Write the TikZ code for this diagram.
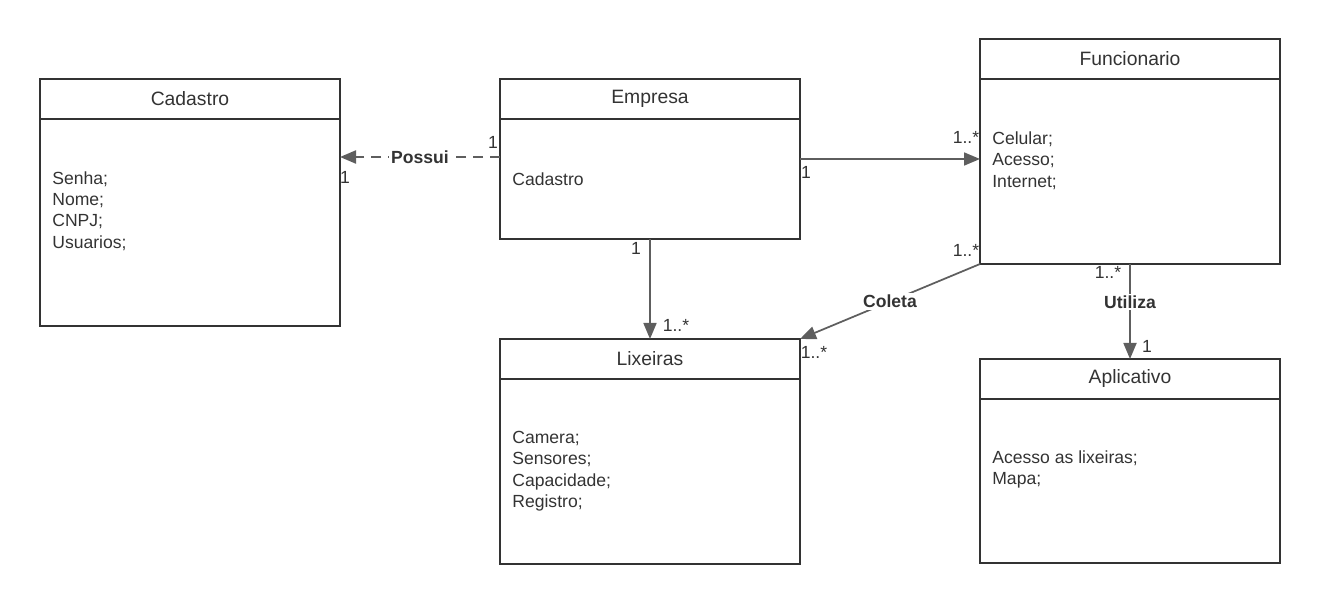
\documentclass[tikz,border=0pt]{standalone}
\usepackage{fontspec}
\setmainfont{Liberation Sans}
\usetikzlibrary{arrows.meta,positioning,calc}
\definecolor{ink}{HTML}{333333}
\definecolor{wire}{HTML}{5E5E5E}

\begin{document}
\begin{tikzpicture}[
  font=\fontsize{10}{12.2}\selectfont, text=ink,
  hdr/.style={draw=ink,line width=1.1pt,minimum width=6cm,minimum height=0.8cm,inner sep=0pt,outer sep=0pt,font=\fontsize{11}{13}\selectfont},
  body/.style={draw=ink,line width=1.1pt,minimum width=6cm,inner sep=0pt,outer sep=0pt},
  attr/.style={anchor=west,align=left,inner sep=0pt},
  assoc/.style={draw=wire,line width=1pt,-{Triangle[length=3.2mm,width=2.6mm]}},
  lbl/.style={fill=white,font=\fontsize{10}{12}\selectfont\bfseries,inner sep=1pt},
  mult/.style={inner sep=0pt}
]
\useasboundingbox (0,0) rectangle (26.4,-12.1);
% the classes
\node[hdr] (cadh) at (3.8,-1.98) {Cadastro};
\node[body,minimum height=4.14cm,below=0pt of cadh] (cadb) {};
\node[attr] (cadt) at ($(cadb.west)+(0.24,0.23)$) {Senha;\\Nome;\\CNPJ;\\Usuarios;};

\node[hdr] (emph) at (13,-1.98) {Empresa};
\node[body,minimum height=2.4cm,below=0pt of emph] (empb) {};
\node[attr] (empt) at ($(empb.west)+(0.24,0.0)$) {Cadastro};

\node[hdr] (funh) at (22.6,-1.18) {Funcionario};
\node[body,minimum height=3.7cm,below=0pt of funh] (funb) {};
\node[attr] (funt) at ($(funb.west)+(0.24,0.22)$) {Celular;\\Acesso;\\Internet;};

\node[hdr] (lixh) at (13,-7.18) {Lixeiras};
\node[body,minimum height=3.7cm,below=0pt of lixh] (lixb) {};
\node[attr] (lixt) at ($(lixb.west)+(0.24,0.01)$) {Camera;\\Sensores;\\Capacidade;\\Registro;};

\node[hdr] (aplh) at (22.6,-7.58) {Aplicativo};
\node[body,minimum height=3.28cm,below=0pt of aplh] (aplb) {};
\node[attr] (aplt) at ($(aplb.west)+(0.24,0.23)$) {Acesso as lixeiras;\\Mapa;};

% the associations
\draw[assoc,line width=1.2pt,dash pattern=on 2mm off 1.4mm]
  ($(empb.west)+(0,0.44)$) coordinate (pe) -- node[lbl]{Possui} (cadb.east |- pe) coordinate (pc);
\node[mult] (m1) at ($(pe)+(-0.14,0.30)$) {1};
\node[mult] (m2) at ($(pc)+(0.10,-0.40)$) {1};

\draw[assoc] ($(empb.east)+(0,0.40)$) coordinate (qe) -- (funb.west |- qe) coordinate (qf);
\node[mult] (m3) at ($(qe)+(0.12,-0.26)$) {1};
\node[mult] (m4) at ($(qf)+(-0.28,0.44)$) {1..*};

\draw[assoc] (empb.south) -- (lixh.north);
\node[mult] (m5) at ($(empb.south)+(-0.28,-0.18)$) {1};
\node[mult] (m6) at ($(lixh.north)+(0.52,0.28)$) {1..*};

\draw[assoc] (funb.south west) -- node[lbl]{Coleta} (lixh.north east);
\node[mult] (m7) at ($(funb.south west)+(-0.28,0.28)$) {1..*};
\node[mult] (m8) at ($(lixh.north east)+(0.28,-0.26)$) {1..*};

\draw[assoc] (funb.south) -- node[lbl,pos=0.4]{Utiliza} (aplh.north);
\node[mult] (m9) at ($(funb.south)+(-0.44,-0.16)$) {1..*};
\node[mult] (m10) at ($(aplh.north)+(0.34,0.26)$) {1};
\end{tikzpicture}
\end{document}
